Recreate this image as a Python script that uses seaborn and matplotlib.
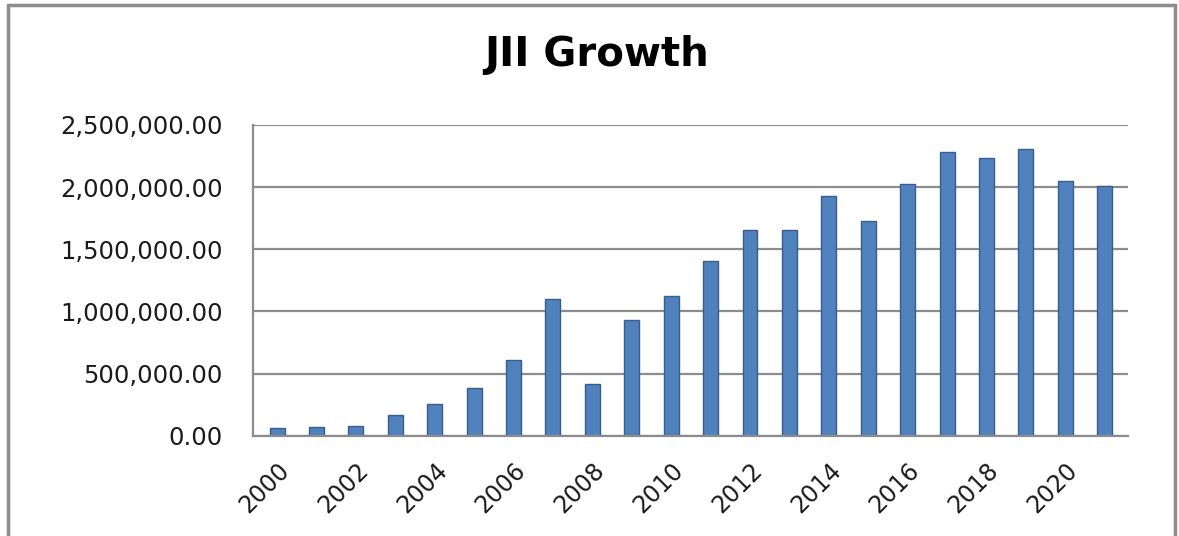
import matplotlib
matplotlib.use("Agg")
import matplotlib.pyplot as plt
import matplotlib.transforms as mtransforms
import seaborn as sns
import pandas as pd
import numpy as np
from matplotlib.lines import Line2D

years = [str(y) for y in range(2000, 2022)]
values = [60000, 74000, 82000, 164000, 252000, 383000, 607000, 1098000,
          415000, 929000, 1125000, 1404000, 1658000, 1658000, 1932000,
          1727000, 2022000, 2279000, 2232000, 2309000, 2049000, 2011000]
tick_labels = [str(y) for y in range(2000, 2021, 2)]
title = "JII Growth"

df = pd.DataFrame({"year": years, "value": values})

sns.set_theme(style="white")
plt.rcParams["font.family"] = ["DejaVu Sans"]

fig = plt.figure(figsize=(11.79, 5.36), dpi=100)
ax = fig.add_axes([0.215, 0.187, 0.742, 0.580])

sns.barplot(data=df, x="year", y="value", order=years, color="#4F81BD",
            width=0.38, edgecolor="#385D8A", linewidth=1.0, saturation=1, ax=ax)

ax.set_ylim(0, 2500000)
ax.set_xlim(-0.6, len(years) - 0.4)
ax.set_yticks([0, 500000, 1000000, 1500000, 2000000, 2500000])
ax.set_yticklabels([f"{v:,.2f}" for v in ax.get_yticks()], fontsize=17.5, color="#1a1a1a")
ax.yaxis.grid(True, color="#8C8C8C", linewidth=1.6)
ax.set_axisbelow(True)
pos = [years.index(t) for t in tick_labels]
ax.set_xticks(pos)
ax.set_xticklabels(tick_labels, rotation=45, ha="right", rotation_mode="anchor",
                   fontsize=17, color="#1a1a1a")
offset = mtransforms.ScaledTranslation(-9 / 100, 0, fig.dpi_scale_trans)
for lab in ax.get_xticklabels():
    lab.set_transform(lab.get_transform() + offset)
ax.set_xticks(np.arange(-0.5, len(years), 1.0), minor=True)
ax.set_xlabel("")
ax.set_ylabel("")
for s in ["top", "right"]:
    ax.spines[s].set_visible(False)
for s in ["left", "bottom"]:
    ax.spines[s].set_color("#8C8C8C")
    ax.spines[s].set_linewidth(1.6)
ax.tick_params(axis="y", length=8, color="#8C8C8C", width=1.6, direction="out", pad=14)
ax.tick_params(axis="x", which="major", length=0, pad=16)
ax.tick_params(axis="x", which="minor", length=8, color="#8C8C8C", width=1.6, direction="out")

fig.text(0.506, 0.897, title, ha="center", va="center", fontsize=29, fontweight="bold", color="black")

# outer chart border
fig.add_artist(Line2D([0.007, 0.007], [0.0, 0.99], transform=fig.transFigure, color="#8C8C8C", lw=2.5))
fig.add_artist(Line2D([0.007, 0.997], [0.99, 0.99], transform=fig.transFigure, color="#8C8C8C", lw=2.5))
fig.add_artist(Line2D([0.997, 0.997], [0.0, 0.99], transform=fig.transFigure, color="#8C8C8C", lw=2.5))

fig.savefig("out.png", dpi=100)
